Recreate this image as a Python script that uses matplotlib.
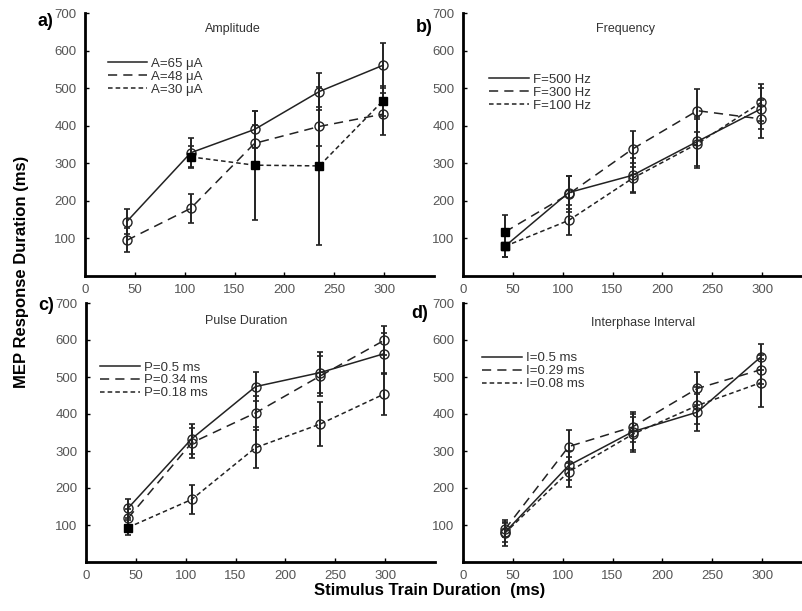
import matplotlib
matplotlib.use("Agg")
import matplotlib.pyplot as plt

plt.rcParams["font.family"] = ["Liberation Sans", "DejaVu Sans"]

# stimulus train durations (ms)
x5 = [42, 106, 170, 235, 299]
x4 = [106, 170, 235, 299]

# a) Amplitude
amp_labels = ["A=65 μA", "A=48 μA", "A=30 μA"]
amp_65 = [145, 328, 390, 491, 561]
amp_65_err = [33, 38, 48, 48, 60]
amp_48 = [95, 180, 353, 398, 431]
amp_48_err = [32, 38, 50, 52, 55]
amp_30 = [317, 295, 293, 467]
amp_30_err = [30, 145, 210, 40]

# b) Frequency
freq_labels = ["F=500 Hz", "F=300 Hz", "F=100 Hz"]
freq_500 = [79, 222, 268, 358, 445]
freq_500_err = [28, 45, 45, 65, 55]
freq_300 = [117, 218, 338, 440, 418]
freq_300_err = [45, 48, 47, 57, 50]
freq_100 = [79, 148, 260, 352, 462]
freq_100_err = [28, 40, 40, 65, 50]

# c) Pulse duration
pulse_labels = ["P=0.5 ms", "P=0.34 ms", "P=0.18 ms"]
pulse_05 = [145, 333, 474, 512, 563]
pulse_05_err = [25, 40, 40, 55, 55]
pulse_034 = [118, 322, 403, 503, 599]
pulse_034_err = [25, 40, 45, 55, 40]
pulse_018 = [93, 169, 309, 373, 454]
pulse_018_err = [20, 40, 55, 60, 57]

# d) Interphase interval
ipi_labels = ["I=0.5 ms", "I=0.29 ms", "I=0.08 ms"]
ipi_05 = [80, 261, 352, 405, 555]
ipi_05_err = [25, 40, 48, 50, 35]
ipi_029 = [88, 312, 365, 469, 520]
ipi_029_err = [20, 45, 40, 45, 40]
ipi_008 = [78, 244, 345, 423, 485]
ipi_008_err = [35, 40, 48, 50, 65]

# points drawn as filled squares instead of open circles (indices)
SQ = {
    "amp_30": [0, 1, 2, 3],
    "freq_500": [0], "freq_300": [0], "freq_100": [0],
    "pulse_018": [0],
}

STYLES = ["-", (0, (6, 4)), (0, (3, 2))]


def draw_series(ax, x, y, e, ls, label, sq):
    ax.errorbar(x, y, yerr=e, fmt="none", ecolor="#222", elinewidth=1.4,
                capsize=2.4, capthick=1.2, zorder=2)
    ax.plot(x, y, color="#222", linestyle=ls, linewidth=1.1, label=label, zorder=3)
    circ = [i for i in range(len(x)) if i not in sq]
    ax.plot([x[i] for i in circ], [y[i] for i in circ], "o", mfc="none",
            mec="#222", mew=1.0, ms=6.5, zorder=4)
    if sq:
        ax.plot([x[i] for i in sq], [y[i] for i in sq], "s", color="black",
                ms=6, zorder=5)


def style_axis(ax):
    ax.set_xlim(0, 350)
    ax.set_ylim(0, 700)
    ax.set_xticks(range(0, 301, 50))
    ax.set_yticks(range(100, 701, 100))
    for s in ("top", "right"):
        ax.spines[s].set_visible(False)
    for s in ("left", "bottom"):
        ax.spines[s].set_linewidth(2)
    ax.tick_params(direction="in", length=3, width=1, labelsize=9.5,
                   labelcolor="#555", pad=6)


fig = plt.figure(figsize=(8.02, 6.11), dpi=100)
W = 349 / 802
ax_a = fig.add_axes([85 / 802, 1 - 276 / 611, W, 263 / 611])
ax_b = fig.add_axes([463 / 802, 1 - 276 / 611, W, 263 / 611])
ax_c = fig.add_axes([86 / 802, 1 - 562 / 611, W, 259 / 611])
ax_d = fig.add_axes([463 / 802, 1 - 562 / 611, W, 259 / 611])

panels = [
    (ax_a, "Amplitude", (148, 657), amp_labels,
     [(x5, amp_65, amp_65_err, []), (x5, amp_48, amp_48_err, []),
      (x4, amp_30, amp_30_err, SQ["amp_30"])], (0.065, 0.83)),
    (ax_b, "Frequency", (163, 657), freq_labels,
     [(x5, freq_500, freq_500_err, SQ["freq_500"]),
      (x5, freq_300, freq_300_err, SQ["freq_300"]),
      (x5, freq_100, freq_100_err, SQ["freq_100"])], (0.075, 0.77)),
    (ax_c, "Pulse Duration", (161, 651), pulse_labels,
     [(x5, pulse_05, pulse_05_err, []), (x5, pulse_034, pulse_034_err, []),
      (x5, pulse_018, pulse_018_err, SQ["pulse_018"])], (0.04, 0.775)),
    (ax_d, "Interphase Interval", (181, 645), ipi_labels,
     [(x5, ipi_05, ipi_05_err, []), (x5, ipi_029, ipi_029_err, []),
      (x5, ipi_008, ipi_008_err, [])], (0.055, 0.81)),
]

for ax, title, tpos, labels, series, lpos in panels:
    for (x, y, e, sq), ls, lab in zip(series, STYLES, labels):
        draw_series(ax, x, y, e, ls, lab, sq)
    style_axis(ax)
    ax.text(tpos[0], tpos[1], title, ha="center", va="center",
            fontsize=9, color="#333")
    ax.legend(loc="upper left", bbox_to_anchor=lpos, frameon=False,
              fontsize=9.5, handlelength=3.0, handletextpad=0.3,
              labelspacing=0.05, borderaxespad=0, borderpad=0,
              labelcolor="#333")

# panel letters
for txt, px, py in [("a)", 45, 22), ("b)", 424, 27), ("c)", 46, 306), ("d)", 420, 313)]:
    fig.text(px / 802, 1 - py / 611, txt, ha="center", va="center",
             fontsize=13, fontweight="bold")

fig.text(22 / 802, 1 - 272 / 611, "MEP Response Duration (ms)", rotation=90,
         ha="center", va="center", fontsize=12, fontweight="bold")
fig.text(430 / 802, 1 - 591 / 611, "Stimulus Train Duration  (ms)",
         ha="center", va="center", fontsize=12, fontweight="bold")

fig.savefig("out.png", dpi=100)
